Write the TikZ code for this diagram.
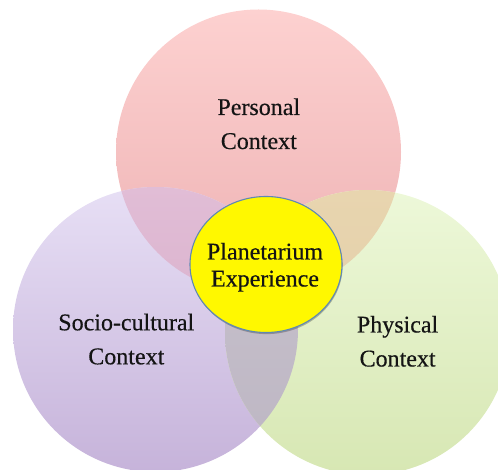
\documentclass[tikz,border=0pt]{standalone}
\usepackage{fontspec}
\setmainfont{Liberation Serif}
\newfontfamily\labelface[FakeBold=0.4]{Liberation Serif}
\usetikzlibrary{shapes.geometric,shadows}

\definecolor{pinkTop}{HTML}{FDD1D0}
\definecolor{pinkBot}{HTML}{EDB1B3}
\definecolor{lilacTop}{HTML}{E7DFF5}
\definecolor{lilacBot}{HTML}{C6B3DA}
\definecolor{limeTop}{HTML}{EDF8D9}
\definecolor{limeBot}{HTML}{D7E7B3}
\definecolor{mauveTop}{HTML}{E1BDD6}
\definecolor{mauveBot}{HTML}{D4A7C4}
\definecolor{tanTop}{HTML}{E8D5AF}
\definecolor{tanBot}{HTML}{E0C9A6}
\definecolor{greyTop}{HTML}{C8C2CD}
\definecolor{greyBot}{HTML}{BDB6C3}
\definecolor{coreYellow}{HTML}{FFF800}
\definecolor{coreEdge}{HTML}{5F88B4}
\definecolor{ink}{HTML}{141414}

\begin{document}
\begin{tikzpicture}[x=1pt,y=-1pt,
  caption/.style={font=\labelface\fontsize{24}{34}\selectfont, align=center,
    inner sep=0pt, text=ink, anchor=base},
  corecaption/.style={caption, font=\labelface\fontsize{24}{27}\selectfont},
  core/.style={ellipse, minimum width=152pt, minimum height=136pt,
    fill=coreYellow, draw=coreEdge, line width=1.1pt,
    drop shadow={shadow xshift=0.6pt, shadow yshift=-1.6pt,
      opacity=0.25, fill=black}}]
  \useasboundingbox (0,0) rectangle (498,470);
  \clip (0,0) rectangle (498,470);

  % circle centres
  \coordinate (T) at (258.5,152);
  \coordinate (L) at (155.5,329.5);
  \coordinate (R) at (367.5,332.5);
  \def\rad{142.5}

  % the three context circles
  \shade[top color=pinkTop, bottom color=pinkBot] (T) circle (\rad);
  \shade[top color=lilacTop, bottom color=lilacBot] (L) circle (\rad);
  \shade[top color=limeTop, bottom color=limeBot] (R) circle (\rad);

  % pairwise overlaps
  \begin{scope}
    \clip (T) circle (\rad);
    \shade[top color=mauveTop, bottom color=mauveBot] (L) circle (\rad);
  \end{scope}
  \begin{scope}
    \clip (T) circle (\rad);
    \shade[top color=tanTop, bottom color=tanBot] (R) circle (\rad);
  \end{scope}
  \begin{scope}
    \clip (L) circle (\rad);
    \shade[top color=greyTop, bottom color=greyBot] (R) circle (\rad);
    \clip (R) circle (\rad);
    \fill[color=mauveBot!60!greyTop] (T) circle (\rad);
  \end{scope}

  % centre (captions are anchored on the baseline of their last line)
  \node[core] (pe) at (266,264.5) {};
  \node[corecaption] (pet) at (265,286.5) {Planetarium\\Experience};

  % context labels
  \node[caption] (pc) at (258.8,149) {Personal\\Context};
  \node[caption] (sc) at (126.3,364.3) {Socio-cultural\\Context};
  \node[caption] (ph) at (397.6,366.5) {Physical\\Context};
\end{tikzpicture}
\end{document}
